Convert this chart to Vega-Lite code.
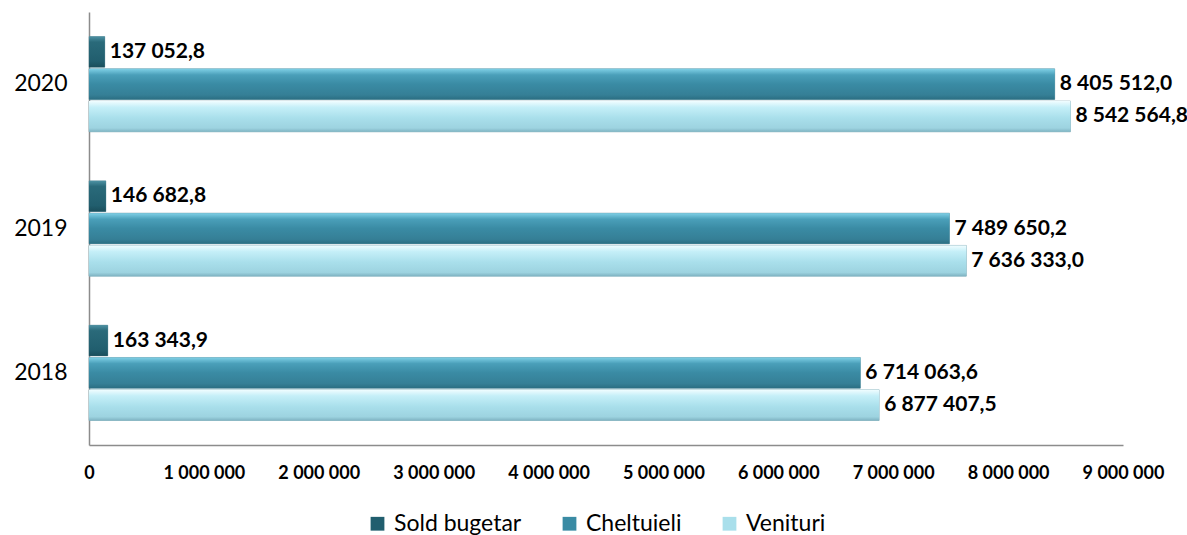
{
  "$schema": "https://vega.github.io/schema/vega-lite/v6.json",
  "autosize": "none",
  "padding": {"left": 89, "top": 12, "right": 64, "bottom": 90},
  "width": 1034,
  "height": 433,
  "background": "white",
  "config": {
    "locale": {"number": {"decimal": ",", "thousands": " ", "grouping": [3], "currency": ["", ""]}},
    "view": {"stroke": null},
    "font": "Lato"
  },
  "data": {
    "values": [
      {"an": "2020", "indicator": "Sold bugetar", "valoare": 137052.8},
      {"an": "2020", "indicator": "Cheltuieli", "valoare": 8405512.0},
      {"an": "2020", "indicator": "Venituri", "valoare": 8542564.8},
      {"an": "2019", "indicator": "Sold bugetar", "valoare": 146682.8},
      {"an": "2019", "indicator": "Cheltuieli", "valoare": 7489650.2},
      {"an": "2019", "indicator": "Venituri", "valoare": 7636333.0},
      {"an": "2018", "indicator": "Sold bugetar", "valoare": 163343.9},
      {"an": "2018", "indicator": "Cheltuieli", "valoare": 6714063.6},
      {"an": "2018", "indicator": "Venituri", "valoare": 6877407.5}
    ]
  },
  "encoding": {
    "y": {
      "field": "an", "type": "nominal", "sort": "descending",
      "scale": {"paddingInner": 0.34, "paddingOuter": 0.17},
      "axis": {"title": null, "ticks": false, "domainColor": "#8c8c8c", "domainWidth": 1.5,
               "labelFontSize": 23, "labelColor": "#000", "labelPadding": 22, "labelFont": "Lato"}
    },
    "yOffset": {
      "field": "indicator", "type": "nominal",
      "sort": ["Sold bugetar", "Cheltuieli", "Venituri"],
      "scale": {"paddingInner": 0.05}
    },
    "x": {
      "field": "valoare", "type": "quantitative",
      "scale": {"domain": [0, 9000000], "nice": false},
      "axis": {"title": null, "ticks": false, "grid": false, "format": ",d", "labelOverlap": false, "labelFlush": false,
               "values": [0,1000000,2000000,3000000,4000000,5000000,6000000,7000000,8000000,9000000],
               "domainColor": "#8c8c8c", "domainWidth": 1.5, "labelFontSize": 18, "labelFontWeight": "bold",
               "labelColor": "#000", "labelPadding": 19, "labelFont": "Lato"}
    }
  },
  "layer": [
    {
      "mark": {"type": "bar", "stroke": "#6f9aa6", "strokeWidth": 0.6},
      "encoding": {
        "color": {
          "field": "indicator", "type": "nominal",
          "sort": ["Sold bugetar", "Cheltuieli", "Venituri"],
          "scale": {"domain": ["Sold bugetar", "Cheltuieli", "Venituri"], "range": ["#215e6e", "#3a8ba4", "#a9dfeb"]},
          "legend": {
            "title": null, "orient": "none", "direction": "horizontal",
            "legendX": 277, "legendY": 500,
            "symbolType": "square", "symbolSize": 190, "symbolStrokeWidth": 0,
            "labelFontSize": 23, "labelColor": "#000", "labelFont": "Lato", "labelOffset": 5,
            "columnPadding": 36
          }
        }
      }
    },
    {
      "transform": [{"filter": "datum.indicator === 'Sold bugetar'"}],
      "mark": {"type": "bar", "color": {"gradient": "linear", "x1": 0, "y1": 0, "x2": 0, "y2": 1,
        "stops": [{"offset": 0, "color": "#4d91a3"}, {"offset": 0.18, "color": "#2a6a7a"}, {"offset": 0.8, "color": "#215e6e"}, {"offset": 1, "color": "#1a4e5b"}]}}
    },
    {
      "transform": [{"filter": "datum.indicator === 'Cheltuieli'"}],
      "mark": {"type": "bar", "color": {"gradient": "linear", "x1": 0, "y1": 0, "x2": 0, "y2": 1,
        "stops": [{"offset": 0, "color": "#7fd0e6"}, {"offset": 0.2, "color": "#4a9fb9"}, {"offset": 0.5, "color": "#3a8ba4"}, {"offset": 0.85, "color": "#357f96"}, {"offset": 1, "color": "#2b6e82"}]}}
    },
    {
      "transform": [{"filter": "datum.indicator === 'Venituri'"}],
      "mark": {"type": "bar", "color": {"gradient": "linear", "x1": 0, "y1": 0, "x2": 0, "y2": 1,
        "stops": [{"offset": 0, "color": "#f0fdff"}, {"offset": 0.2, "color": "#c5eff8"}, {"offset": 0.55, "color": "#a9dfeb"}, {"offset": 0.88, "color": "#9dd3e0"}, {"offset": 1, "color": "#7fb3c2"}]}}
    },
    {
      "mark": {"type": "text", "align": "left", "baseline": "middle", "dx": 5, "fontSize": 21, "fontWeight": "bold", "color": "#000"},
      "encoding": {
        "text": {"field": "valoare", "type": "quantitative", "format": ",.1f"}
      }
    }
  ]
}
